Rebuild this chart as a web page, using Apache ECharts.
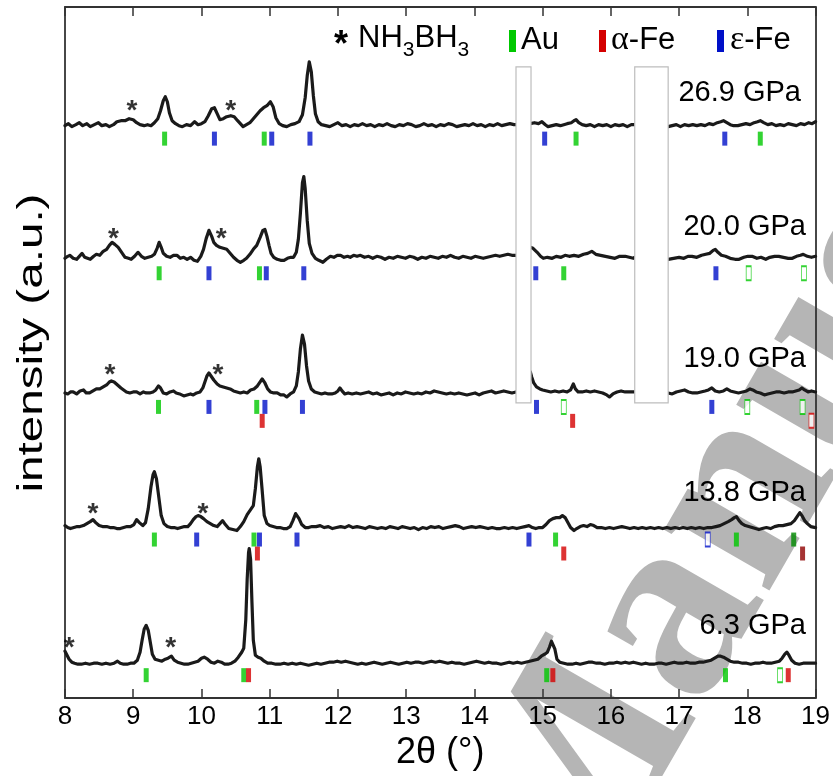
<!DOCTYPE html>
<html><head><meta charset="utf-8">
<script src="https://cdn.jsdelivr.net/npm/echarts/dist/echarts.min.js"></script>
<style>html,body{margin:0;padding:0;background:#fff}#c{width:833px;height:776px}</style>
</head><body><div id="c"></div>
<script>
// ---- data (2θ in degrees, intensity a.u. relative to each pattern's baseline) ----
const pressures = ['26.9 GPa', '20.0 GPa', '19.0 GPa', '13.8 GPa', '6.3 GPa'];
const offsets = [574, 441, 305, 170, 34];

const p269 = [[8.00,0],[8.05,2],[8.10,-1],[8.16,1],[8.21,3],[8.26,0],[8.32,2],[8.37,-1],[8.43,1],[8.49,3],[8.54,0],[8.60,1],[8.65,-1],[8.71,1],[8.76,4],[8.82,5],[8.88,5],[8.94,7],[9.00,6],[9.05,3],[9.10,1],[9.16,0],[9.21,1],[9.26,0],[9.31,3],[9.36,7],[9.40,15],[9.44,25],[9.47,29],[9.50,24],[9.53,13],[9.57,5],[9.62,2],[9.67,0],[9.72,-1],[9.78,1],[9.84,0],[9.90,4],[9.95,1],[10.00,2],[10.05,4],[10.10,10],[10.15,17],[10.19,18],[10.23,12],[10.27,6],[10.32,7],[10.37,9],[10.43,10],[10.48,9],[10.53,5],[10.57,2],[10.61,-1],[10.66,1],[10.71,3],[10.76,7],[10.81,11],[10.86,15],[10.91,18],[10.96,20],[11.01,24],[11.05,19],[11.09,8],[11.14,2],[11.19,0],[11.25,-1],[11.31,1],[11.37,2],[11.43,4],[11.48,11],[11.52,28],[11.55,50],[11.58,64],[11.61,54],[11.64,30],[11.67,12],[11.71,4],[11.76,1],[11.82,0],[11.88,-1],[11.94,1],[12.00,3],[12.06,0],[12.12,1],[12.18,-1],[12.24,1],[12.30,0],[12.36,2],[12.42,0],[12.48,1],[12.54,-1],[12.60,1],[12.66,0],[12.72,2],[12.78,0],[12.84,-1],[12.90,1],[12.96,0],[13.02,2],[13.08,1],[13.14,-1],[13.20,0],[13.26,2],[13.32,0],[13.38,1],[13.44,-1],[13.50,1],[13.56,0],[13.62,2],[13.68,1],[13.74,-1],[13.80,0],[13.86,1],[13.92,0],[13.98,2],[14.04,0],[14.10,1],[14.16,-1],[14.22,1],[14.28,0],[14.34,2],[14.40,0],[14.46,1],[14.52,2],[14.58,1],[14.61,1],[14.7,'-'],[14.82,2],[14.88,3],[14.94,2],[14.99,4],[15.04,1],[15.08,-1],[15.14,0],[15.20,1],[15.26,0],[15.31,1],[15.36,2],[15.42,3],[15.46,5],[15.49,6],[15.53,3],[15.58,1],[15.64,0],[15.70,1],[15.76,-1],[15.82,1],[15.88,0],[15.94,1],[16.00,-1],[16.06,1],[16.12,0],[16.18,1],[16.24,-1],[16.30,1],[16.35,1],[16.6,'-'],[16.84,-1],[16.90,0],[16.96,1],[17.02,-1],[17.08,1],[17.14,0],[17.20,1],[17.26,0],[17.32,1],[17.38,0],[17.44,2],[17.50,1],[17.56,3],[17.61,4],[17.65,5],[17.70,3],[17.75,1],[17.80,0],[17.86,0],[17.92,1],[17.98,2],[18.04,1],[18.10,3],[18.15,4],[18.19,5],[18.24,3],[18.30,1],[18.36,2],[18.42,0],[18.48,1],[18.54,0],[18.60,2],[18.66,1],[18.72,0],[18.78,2],[18.84,1],[18.90,3],[18.95,2],[19.00,4]];

const p200 = [[8.00,0],[8.04,2],[8.07,3],[8.12,0],[8.17,-1],[8.21,2],[8.25,5],[8.29,1],[8.33,0],[8.37,-1],[8.42,2],[8.46,4],[8.51,3],[8.56,7],[8.61,9],[8.65,13],[8.69,16],[8.73,14],[8.78,11],[8.83,6],[8.88,1],[8.93,0],[8.97,-1],[9.02,2],[9.07,6],[9.12,2],[9.17,0],[9.22,1],[9.27,2],[9.31,4],[9.35,10],[9.38,16],[9.41,11],[9.44,5],[9.49,2],[9.54,1],[9.59,3],[9.64,3],[9.69,0],[9.74,1],[9.79,-1],[9.84,1],[9.89,-2],[9.94,-3],[9.99,2],[10.03,9],[10.07,20],[10.11,28],[10.15,22],[10.18,16],[10.22,13],[10.27,11],[10.32,10],[10.37,9],[10.42,5],[10.47,1],[10.52,-2],[10.57,-4],[10.62,-2],[10.66,0],[10.71,4],[10.76,9],[10.81,13],[10.86,21],[10.90,28],[10.93,29],[10.96,22],[10.99,13],[11.02,5],[11.06,1],[11.11,-1],[11.16,-2],[11.21,-2],[11.26,0],[11.31,1],[11.35,1],[11.39,6],[11.42,19],[11.45,45],[11.48,76],[11.50,82],[11.52,70],[11.55,38],[11.58,15],[11.62,5],[11.67,0],[11.72,-2],[11.78,-4],[11.83,-1],[11.89,2],[11.94,1],[11.99,3],[12.04,3],[12.09,1],[12.14,2],[12.18,1],[12.23,3],[12.28,2],[12.33,3],[12.39,1],[12.45,2],[12.51,0],[12.57,2],[12.63,1],[12.69,-1],[12.75,1],[12.81,0],[12.87,2],[12.93,1],[12.99,0],[13.05,2],[13.11,1],[13.17,-1],[13.23,1],[13.29,0],[13.35,2],[13.41,1],[13.47,0],[13.53,2],[13.59,1],[13.65,3],[13.71,1],[13.77,0],[13.83,2],[13.89,1],[13.95,0],[14.01,2],[14.07,1],[14.13,0],[14.19,1],[14.25,2],[14.31,3],[14.37,2],[14.43,3],[14.49,4],[14.55,3],[14.61,3],[14.7,'-'],[14.82,11],[14.86,10],[14.92,6],[14.97,2],[15.01,0],[15.07,1],[15.14,0],[15.20,2],[15.27,1],[15.33,3],[15.39,2],[15.46,3],[15.53,2],[15.60,4],[15.66,5],[15.72,7],[15.78,4],[15.85,3],[15.92,2],[15.99,1],[16.06,0],[16.13,2],[16.21,2],[16.27,1],[16.33,0],[16.35,1],[16.6,'-'],[16.84,-1],[16.92,0],[17.00,1],[17.07,0],[17.13,2],[17.19,2],[17.26,1],[17.33,3],[17.39,4],[17.45,5],[17.50,8],[17.53,9],[17.57,6],[17.62,3],[17.68,2],[17.75,0],[17.82,-1],[17.88,-1],[17.95,1],[18.01,2],[18.07,2],[18.14,0],[18.20,1],[18.27,-1],[18.33,1],[18.40,2],[18.46,2],[18.53,1],[18.60,0],[18.66,0],[18.72,2],[18.78,3],[18.82,4],[18.88,2],[18.94,1],[19.00,2]];

const p190 = [[8.00,1],[8.04,0],[8.08,2],[8.12,2],[8.17,0],[8.22,3],[8.27,4],[8.31,1],[8.36,1],[8.41,3],[8.46,5],[8.51,5],[8.56,7],[8.61,9],[8.65,12],[8.68,13],[8.72,12],[8.77,9],[8.82,6],[8.86,4],[8.90,2],[8.95,1],[9.00,2],[9.05,2],[9.10,0],[9.15,2],[9.19,1],[9.24,1],[9.29,2],[9.33,4],[9.37,8],[9.40,6],[9.44,1],[9.49,0],[9.54,2],[9.59,3],[9.63,1],[9.68,0],[9.74,-2],[9.79,-1],[9.84,0],[9.88,-1],[9.93,1],[9.98,2],[10.02,6],[10.05,12],[10.08,18],[10.11,21],[10.15,17],[10.18,14],[10.23,10],[10.27,8],[10.32,7],[10.37,6],[10.42,5],[10.47,3],[10.52,2],[10.57,1],[10.62,2],[10.67,1],[10.72,4],[10.77,5],[10.82,8],[10.86,12],[10.89,15],[10.93,11],[10.97,5],[11.01,2],[11.06,1],[11.11,1],[11.16,-1],[11.21,-1],[11.25,-3],[11.30,0],[11.35,2],[11.39,8],[11.42,22],[11.45,45],[11.48,59],[11.51,50],[11.54,28],[11.57,13],[11.61,5],[11.66,2],[11.71,1],[11.76,0],[11.81,1],[11.86,0],[11.91,0],[11.96,1],[12.00,3],[12.03,6],[12.06,3],[12.10,0],[12.15,1],[12.21,0],[12.27,1],[12.33,0],[12.39,1],[12.45,2],[12.51,0],[12.57,1],[12.63,-1],[12.69,0],[12.75,1],[12.81,-1],[12.87,1],[12.93,0],[12.99,2],[13.05,1],[13.11,0],[13.17,1],[13.23,0],[13.29,2],[13.35,1],[13.41,3],[13.47,2],[13.53,1],[13.59,0],[13.65,1],[13.71,0],[13.77,1],[13.83,0],[13.89,-1],[13.95,0],[14.01,1],[14.07,-1],[14.13,1],[14.19,2],[14.25,3],[14.31,1],[14.37,2],[14.43,3],[14.49,2],[14.55,1],[14.61,2],[14.7,'-'],[14.82,22],[14.84,17],[14.87,11],[14.91,7],[14.96,5],[15.00,4],[15.06,3],[15.12,2],[15.18,3],[15.24,2],[15.30,3],[15.36,2],[15.41,4],[15.45,10],[15.48,5],[15.52,2],[15.58,2],[15.64,3],[15.70,2],[15.76,3],[15.82,2],[15.88,1],[15.94,-1],[15.98,-3],[16.03,0],[16.09,2],[16.15,3],[16.21,2],[16.27,2],[16.33,2],[16.35,2],[16.6,'-'],[16.84,1],[16.90,0],[16.96,2],[17.02,3],[17.08,4],[17.14,2],[17.20,1],[17.26,1],[17.32,2],[17.38,3],[17.43,4],[17.48,6],[17.53,3],[17.59,2],[17.65,3],[17.70,5],[17.75,3],[17.81,2],[17.87,1],[17.93,2],[17.99,3],[18.04,5],[18.08,4],[18.13,2],[18.19,1],[18.25,-1],[18.30,0],[18.36,1],[18.42,2],[18.48,2],[18.54,1],[18.60,2],[18.66,2],[18.71,3],[18.76,4],[18.80,6],[18.84,4],[18.89,2],[18.94,3],[19.00,2]];

const p138 = [[8.00,3],[8.04,1],[8.08,0],[8.13,1],[8.18,2],[8.22,2],[8.27,3],[8.32,5],[8.37,7],[8.41,9],[8.45,6],[8.50,3],[8.55,2],[8.61,2],[8.66,1],[8.71,1],[8.76,0],[8.81,0],[8.86,1],[8.91,2],[8.96,2],[9.01,4],[9.05,9],[9.09,6],[9.14,3],[9.18,6],[9.22,20],[9.26,42],[9.29,54],[9.31,57],[9.34,50],[9.37,34],[9.41,13],[9.45,5],[9.50,2],[9.55,1],[9.60,1],[9.65,0],[9.70,1],[9.75,2],[9.80,2],[9.84,5],[9.88,9],[9.92,12],[9.95,13],[9.99,12],[10.03,10],[10.08,7],[10.13,5],[10.18,3],[10.23,2],[10.27,5],[10.31,8],[10.35,4],[10.40,0],[10.46,-1],[10.52,-2],[10.57,2],[10.62,7],[10.67,14],[10.72,19],[10.76,23],[10.79,40],[10.82,62],[10.84,70],[10.86,62],[10.89,38],[10.92,13],[10.96,5],[11.00,3],[11.05,2],[11.10,1],[11.15,1],[11.20,0],[11.25,0],[11.30,2],[11.34,8],[11.38,15],[11.40,17],[11.43,10],[11.47,4],[11.52,1],[11.57,1],[11.62,2],[11.68,2],[11.74,3],[11.80,1],[11.86,2],[11.92,0],[11.98,1],[12.04,2],[12.10,1],[12.16,3],[12.22,1],[12.28,2],[12.34,1],[12.40,0],[12.46,2],[12.52,1],[12.58,0],[12.64,1],[12.70,0],[12.76,2],[12.82,1],[12.88,0],[12.94,2],[13.00,1],[13.06,0],[13.12,1],[13.18,-1],[13.24,1],[13.30,0],[13.36,2],[13.42,1],[13.48,2],[13.54,0],[13.60,1],[13.66,2],[13.72,3],[13.78,2],[13.84,0],[13.90,1],[13.96,2],[14.02,1],[14.08,2],[14.14,1],[14.20,0],[14.26,1],[14.32,0],[14.38,0],[14.44,1],[14.50,0],[14.56,1],[14.62,0],[14.68,1],[14.74,2],[14.80,3],[14.85,1],[14.90,0],[14.95,1],[15.00,1],[15.05,4],[15.10,8],[15.15,10],[15.20,11],[15.25,11],[15.29,13],[15.33,11],[15.37,6],[15.41,1],[15.46,-2],[15.50,0],[15.55,2],[15.60,3],[15.65,2],[15.70,4],[15.75,3],[15.80,1],[15.86,1],[15.92,0],[15.98,1],[16.04,0],[16.10,1],[16.16,2],[16.22,1],[16.28,0],[16.34,1],[16.40,0],[16.46,1],[16.52,0],[16.58,1],[16.64,0],[16.70,1],[16.76,0],[16.82,1],[16.88,0],[16.94,1],[17.00,0],[17.06,1],[17.12,0],[17.18,1],[17.24,0],[17.30,1],[17.36,0],[17.42,1],[17.48,1],[17.54,2],[17.60,3],[17.66,5],[17.72,7],[17.77,9],[17.81,11],[17.84,12],[17.88,8],[17.92,5],[17.97,3],[18.02,2],[18.07,1],[18.12,0],[18.17,-1],[18.22,0],[18.28,1],[18.34,0],[18.40,2],[18.46,3],[18.52,3],[18.58,4],[18.64,5],[18.69,8],[18.73,12],[18.77,16],[18.80,13],[18.84,8],[18.88,5],[18.93,2],[19.00,1]];

const p063 = [[8.00,13],[8.03,9],[8.06,5],[8.10,2],[8.14,1],[8.19,0],[8.24,0],[8.30,1],[8.36,0],[8.42,1],[8.48,1],[8.54,0],[8.60,1],[8.66,0],[8.72,1],[8.77,3],[8.81,1],[8.86,0],[8.91,0],[8.96,1],[9.01,1],[9.06,4],[9.10,12],[9.13,24],[9.16,35],[9.19,39],[9.22,34],[9.25,22],[9.28,10],[9.32,5],[9.37,4],[9.42,3],[9.47,5],[9.51,6],[9.56,8],[9.60,4],[9.65,2],[9.70,1],[9.75,0],[9.80,0],[9.85,1],[9.90,2],[9.95,3],[10.00,6],[10.04,7],[10.09,5],[10.14,2],[10.19,1],[10.24,3],[10.29,2],[10.34,0],[10.39,0],[10.44,1],[10.49,3],[10.54,7],[10.59,12],[10.62,16],[10.65,45],[10.67,85],[10.69,112],[10.70,116],[10.72,105],[10.74,62],[10.76,24],[10.79,9],[10.83,7],[10.87,6],[10.92,3],[10.97,1],[11.03,1],[11.09,0],[11.15,0],[11.21,1],[11.27,0],[11.33,1],[11.39,0],[11.45,1],[11.51,0],[11.57,-1],[11.63,0],[11.69,1],[11.75,0],[11.81,1],[11.87,2],[11.93,2],[11.99,3],[12.05,2],[12.11,3],[12.17,2],[12.23,1],[12.29,0],[12.35,1],[12.41,0],[12.47,1],[12.53,2],[12.59,1],[12.65,0],[12.71,1],[12.77,2],[12.83,1],[12.89,0],[12.95,1],[13.01,2],[13.07,1],[13.13,2],[13.19,2],[13.25,1],[13.31,2],[13.37,3],[13.43,2],[13.49,3],[13.55,2],[13.61,1],[13.67,2],[13.73,1],[13.79,1],[13.85,0],[13.91,1],[13.97,2],[14.03,3],[14.09,2],[14.15,1],[14.21,2],[14.27,1],[14.33,1],[14.39,0],[14.45,1],[14.51,2],[14.57,1],[14.63,2],[14.69,1],[14.75,2],[14.81,3],[14.87,4],[14.93,5],[14.98,8],[15.03,10],[15.07,12],[15.10,17],[15.13,23],[15.15,24],[15.18,15],[15.21,5],[15.25,2],[15.31,1],[15.37,0],[15.43,0],[15.49,1],[15.55,0],[15.61,1],[15.67,2],[15.73,2],[15.79,1],[15.85,1],[15.91,0],[15.97,1],[16.03,1],[16.09,2],[16.15,1],[16.21,2],[16.27,1],[16.33,2],[16.39,1],[16.45,0],[16.51,1],[16.57,0],[16.63,0],[16.69,1],[16.75,1],[16.81,0],[16.87,1],[16.93,2],[16.99,1],[17.05,1],[17.11,2],[17.17,1],[17.23,1],[17.29,2],[17.35,2],[17.41,3],[17.47,4],[17.52,6],[17.57,8],[17.61,8],[17.65,7],[17.70,5],[17.75,3],[17.81,2],[17.87,2],[17.93,1],[17.99,1],[18.05,0],[18.11,1],[18.17,1],[18.23,2],[18.29,1],[18.35,1],[18.41,2],[18.47,3],[18.51,6],[18.55,10],[18.58,12],[18.61,9],[18.65,4],[18.70,1],[18.76,0],[18.82,1],[18.88,1],[18.94,1],[19.00,1]];

// reflection tick positions (2θ) per pattern, in order 26.9, 20.0, 19.0, 13.8, 6.3 GPa
const auTicks      = [[9.46,10.92,15.49,18.19],[9.38,10.85,15.31],[9.37,10.81],[9.31,10.77,15.19,17.84],[9.19,10.62,15.06,17.68]];
const auOpenTicks  = [[],[18.02,18.83],[15.31,18.00,18.81],[],[18.48]];
const auDarkTicks  = [[],[],[],[18.68],[]];
const feATicks     = [[],[],[10.89,15.44],[10.82,15.31],[10.69,15.15,18.60]];
const feAOpenTicks = [[],[],[18.94],[],[]];
const feADarkTicks = [[],[],[],[18.81],[]];
const feETicks     = [[10.19,11.03,11.59,15.03,17.67],[10.11,10.95,11.50,14.90,17.54],[10.11,10.93,11.48,14.91,17.48],[9.93,10.85,11.40,14.80],[]];
const feEOpenTicks = [[],[],[],[17.42],[]];
const row1Y = [561, 426, 292, 159, 23];
const row2Y = [561, 426, 278, 145, 23];

// NH3BH3 reflections (asterisks)
const starX = [[8.98,10.43],[8.71,10.29],[8.66,10.24],[8.41,10.02],[8.06,9.55]];
const starRel = [22, 27, 27, 22, 24];

// masked detector-gap regions: [x0, x1, y0, y1]
const gaps = [[14.61,14.83,296,633],[16.35,16.84,296,633]];

const xTicks = [8,9,10,11,12,13,14,15,16,17,18,19];

// ---- chart ----
const FONT = 'Liberation Sans, Arial, sans-serif';
const patterns = [p269, p200, p190, p138, p063];
const lineSeries = patterns.map((p, i) => ({
  type: 'line', name: pressures[i], showSymbol: false, symbol: 'none',
  data: p.map(d => d[1] === '-' ? [d[0], '-'] : [d[0], d[1] + offsets[i]]),
  lineStyle: { color: '#1a1a1a', width: 3.2, join: 'round', cap: 'round' },
  z: 2, silent: true, animation: false
}));
function tickData(lists, rows) {
  const out = [];
  lists.forEach((xs, i) => xs.forEach(x => out.push([x, rows[i]])));
  return out;
}
function tickSeries(lists, rows, color, open) {
  return {
    type: 'scatter', symbol: 'rect', symbolSize: [5, 14],
    data: tickData(lists, rows),
    itemStyle: open ? { color: '#fff', borderColor: color, borderWidth: 1.2 } : { color: color },
    z: 4, silent: true, animation: false
  };
}
const green = '#00c800', dgreen = '#008a00', red = '#d40000', dred = '#8f0000', blue = '#0010c8';
const starData = [];
starX.forEach((xs, i) => xs.forEach(x => starData.push([x, offsets[i] + starRel[i]])));

const chart = echarts.init(document.getElementById('c'), null, { renderer: 'canvas' });
const axisLineStyle = { color: '#333', width: 1.8 };
const LEG = 31;
chart.setOption({
  animation: false,
  backgroundColor: '#fff',
  grid: { left: 65, right: 17, top: 7, bottom: 76 },
  xAxis: [{
    type: 'value', min: xTicks[0], max: xTicks[xTicks.length - 1], interval: 1, position: 'bottom',
    axisLine: { onZero: false, lineStyle: axisLineStyle },
    axisTick: { inside: true, length: 9, lineStyle: { color: '#333', width: 1.5 } },
    axisLabel: { fontSize: 26, color: '#000', margin: 6, fontFamily: FONT },
    splitLine: { show: false },
    name: '2θ (°)', nameLocation: 'middle', nameGap: 29,
    nameTextStyle: { fontSize: 36, color: '#000', fontFamily: FONT }
  }, {
    type: 'value', min: xTicks[0], max: xTicks[xTicks.length - 1], interval: 1, position: 'top',
    axisLine: { onZero: false, lineStyle: axisLineStyle },
    axisTick: { inside: true, length: 9, lineStyle: { color: '#333', width: 1.5 } },
    axisLabel: { show: false }, splitLine: { show: false }
  }],
  yAxis: [{
    type: 'value', min: 0, max: 693, position: 'left',
    axisLine: { show: true, onZero: false, lineStyle: axisLineStyle },
    axisTick: { show: false }, axisLabel: { show: false }, splitLine: { show: false }
  }, {
    type: 'value', min: 0, max: 693, position: 'right',
    axisLine: { show: true, onZero: false, lineStyle: axisLineStyle },
    axisTick: { show: false }, axisLabel: { show: false }, splitLine: { show: false }
  }],
  series: [
    ...lineSeries,
    {
      type: 'custom', data: gaps, encode: { x: [0, 1], y: [2, 3] }, z: 3, silent: true,
      renderItem: (params, api) => {
        const a = api.coord([api.value(0), api.value(3)]);
        const b = api.coord([api.value(1), api.value(2)]);
        return { type: 'rect', shape: { x: a[0], y: a[1], width: b[0] - a[0], height: b[1] - a[1] },
                 style: { fill: '#fff', stroke: '#bdbdbd', lineWidth: 1.2 } };
      }
    },
    tickSeries(auTicks, row1Y, green, false),
    tickSeries(auOpenTicks, row1Y, green, true),
    tickSeries(auDarkTicks, row1Y, dgreen, false),
    tickSeries(feATicks, row2Y, red, false),
    tickSeries(feAOpenTicks, row2Y, red, true),
    tickSeries(feADarkTicks, row2Y, dred, false),
    tickSeries(feETicks, row1Y, blue, false),
    tickSeries(feEOpenTicks, row1Y, blue, true),
    {
      type: 'scatter', data: starData, symbol: 'circle', symbolSize: 2,
      itemStyle: { color: 'rgba(0,0,0,0)' }, z: 5, silent: true,
      label: { show: true, position: 'inside', formatter: '*', fontSize: 28, fontWeight: 'bold', color: '#000',
               fontFamily: FONT, offset: [0, 8] }
    }
  ],
  graphic: [
    { type: 'text', z: -10, x: 630, y: 960, rotation: Math.PI / 3, silent: true,
      style: { text: 'Manuscript', fontSize: 265, fontWeight: 'bold',
               fontFamily: 'Liberation Serif, Times New Roman, serif',
               fill: '#b5b5b5', align: 'left', verticalAlign: 'bottom' } },
    { type: 'text', z: 100, x: 32, y: 343, rotation: Math.PI / 2, scaleX: 1.36,
      style: { text: 'intensity (a.u.)', fontSize: 35, fontFamily: FONT, fill: '#000',
               align: 'center', verticalAlign: 'middle' } },
    ...pressures.map((t, i) => ({
      type: 'text', z: 100, x: [801, 806, 806, 806, 806][i], y: [93, 227, 359, 493, 626][i],
      style: { text: t, fontSize: 29, fontFamily: FONT, fill: '#000', align: 'right', verticalAlign: 'middle' }
    })),
    // legend
    { type: 'text', z: 100, x: 341, y: 46,
      style: { text: '*', fontSize: 36, fontWeight: 'bold', fontFamily: FONT, fill: '#000', align: 'center', verticalAlign: 'middle' } },
    { type: 'text', z: 100, x: 358, y: 23,
      style: { text: '{a|NH}{b|3}{a|BH}{b|3}', fill: '#000', align: 'left', verticalAlign: 'top',
               rich: { a: { fontSize: LEG, lineHeight: 34, fontFamily: FONT, verticalAlign: 'top' },
                       b: { fontSize: 21, lineHeight: 21, padding: [17, 0, 0, 0], fontFamily: FONT, verticalAlign: 'top' } } } },
    { type: 'rect', z: 100, shape: { x: 509, y: 30, width: 7, height: 22 }, style: { fill: green } },
    { type: 'text', z: 100, x: 521, y: 40,
      style: { text: 'Au', fontSize: LEG, fontFamily: FONT, fill: '#000', align: 'left', verticalAlign: 'middle' } },
    { type: 'rect', z: 100, shape: { x: 599, y: 30, width: 7, height: 22 }, style: { fill: red } },
    { type: 'text', z: 100, x: 611, y: 40,
      style: { text: '{g|α}{n|-Fe}', fill: '#000', align: 'left', verticalAlign: 'middle',
               rich: { g: { fontSize: 34, fontFamily: 'Liberation Serif, serif' }, n: { fontSize: LEG, fontFamily: FONT } } } },
    { type: 'rect', z: 100, shape: { x: 717, y: 30, width: 7, height: 22 }, style: { fill: blue } },
    { type: 'text', z: 100, x: 730, y: 40,
      style: { text: '{g|ε}{n|-Fe}', fill: '#000', align: 'left', verticalAlign: 'middle',
               rich: { g: { fontSize: 34, fontFamily: 'Liberation Serif, serif' }, n: { fontSize: LEG, fontFamily: FONT } } } }
  ]
});
</script></body></html>
